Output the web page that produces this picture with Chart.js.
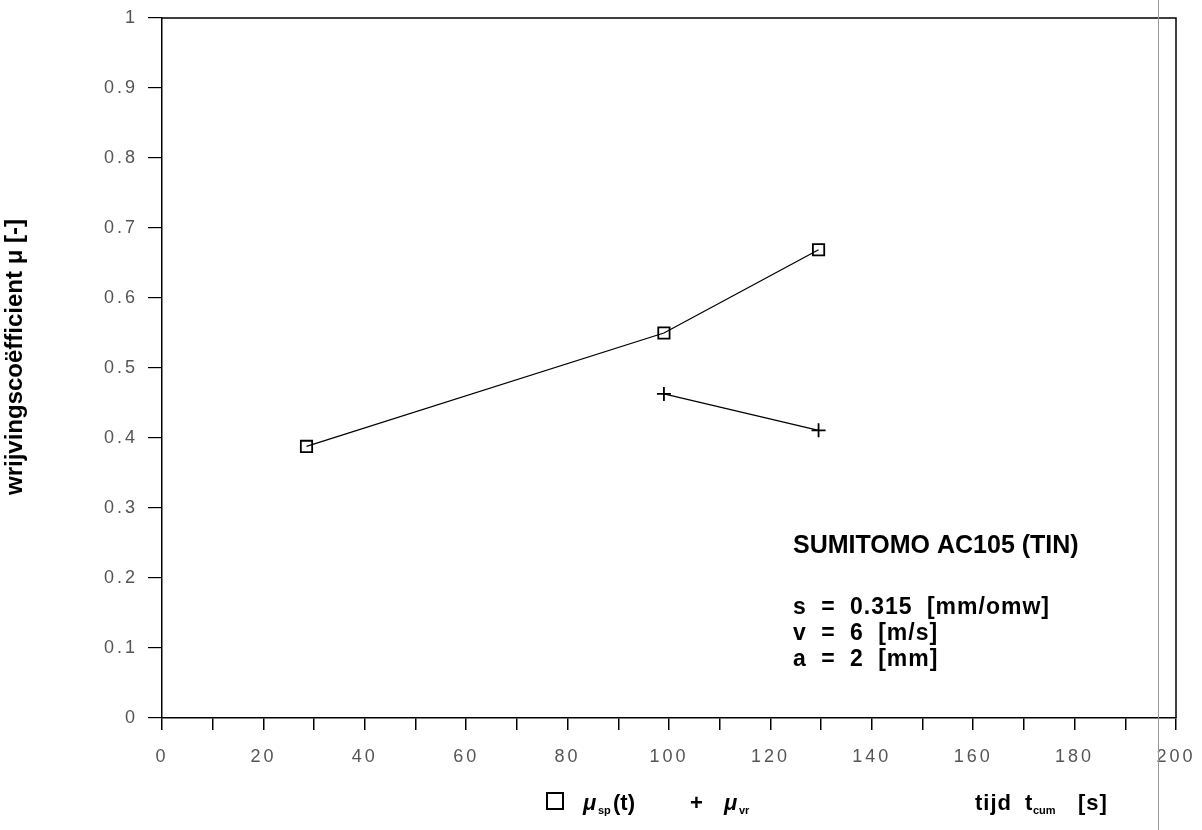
<!DOCTYPE html>
<html>
<head>
<meta charset="utf-8">
<script src="https://cdn.jsdelivr.net/npm/chart.js@4/dist/chart.umd.min.js"></script>
<style>
  html, body { margin: 0; padding: 0; background: #fff; }
  #wrap { width: 1202px; height: 830px; position: relative; }
</style>
</head>
<body>
<div id="wrap"><canvas id="frictionChart" width="1202" height="830"></canvas></div>
<script>
// measured values (tijd in s, wrijvingscoefficient)
const spTimes = [28.5, 99, 129.5];
const spValues = [0.388, 0.550, 0.669];
const vrTimes = [99, 129.5];
const vrValues = [0.463, 0.411];

const xTicksMin = 0, xTicksMax = 200;
const yTicksMin = 0, yTicksMax = 1;

const infoLines = ['s = 0.315 [mm/omw]', 'v = 6 [m/s]', 'a = 2 [mm]'];
const infoTitle = 'SUMITOMO AC105 (TIN)';

const FONT = '"Liberation Sans", Arial, sans-serif';

function toPoints(xs, ys) {
    return xs.map((x, i) => ({ x: x, y: ys[i] }));
}

// tick labels of the scan are spaced out
const spacing = {
    id: 'spacing',
    beforeDraw(chart) { chart.ctx.letterSpacing = '3px'; },
    afterDatasetsDraw(chart) { chart.ctx.letterSpacing = '0px'; }
};

// frame, texts, legend with subscripts
const extras = {
    id: 'extras',
    afterDraw(chart) {
        const c = chart.ctx;
        const a = chart.chartArea;
        c.save();
        c.strokeStyle = '#000';
        c.lineWidth = 1.5;
        c.beginPath();
        c.moveTo(a.left, a.top);
        c.lineTo(a.right, a.top);
        c.lineTo(a.right, a.bottom);
        c.stroke();
        // faint scanner line
        c.strokeStyle = '#999';
        c.lineWidth = 1;
        c.beginPath();
        c.moveTo(a.right - 17.5, 0);
        c.lineTo(a.right - 17.5, chart.height);
        c.stroke();

        // y title
        c.fillStyle = '#000';
        c.font = 'bold 24px ' + FONT;
        c.translate(15, 357);
        c.rotate(-Math.PI / 2);
        c.textAlign = 'center';
        c.textBaseline = 'middle';
        c.fillText('wrijvingscoëfficient \u03BC [-]', 0, 0);
        c.restore();

        // info text
        c.save();
        c.fillStyle = '#000';
        c.textBaseline = 'alphabetic';
        c.font = 'bold 25px ' + FONT;
        c.fillText(infoTitle, 793, 553);
        c.font = 'bold 23px ' + FONT;
        c.letterSpacing = '1px';
        c.wordSpacing = '7px';
        infoLines.forEach((t, i) => c.fillText(t, 793, 614 + i * 26));
        c.wordSpacing = '0px';
        c.letterSpacing = '0px';

        // legend
        const ly = 810;
        c.lineWidth = 2;
        c.strokeRect(547, ly - 17, 16, 16);
        c.font = 'italic bold 22px ' + FONT;
        c.fillText('\u03BC', 583, ly);
        c.font = 'bold 11px ' + FONT;
        c.fillText('sp', 598, ly + 4);
        c.font = 'bold 22px ' + FONT;
        c.fillText('(t)', 613, ly);
        c.fillText('+', 690, ly);
        c.font = 'italic bold 22px ' + FONT;
        c.fillText('\u03BC', 724, ly);
        c.font = 'bold 11px ' + FONT;
        c.fillText('vr', 739, ly + 4);

        c.font = 'bold 22px ' + FONT;
        c.letterSpacing = '1px';
        c.fillText('tijd', 975, ly);
        c.fillText('t', 1025, ly);
        c.font = 'bold 11px ' + FONT;
        c.letterSpacing = '0px';
        c.fillText('cum', 1033, ly + 4);
        c.font = 'bold 22px ' + FONT;
        c.letterSpacing = '1px';
        c.fillText('[s]', 1078, ly);
        c.restore();
    }
};

new Chart(document.getElementById('frictionChart').getContext('2d'), {
    type: 'scatter',
    data: {
        datasets: [{
            label: 'μsp(t)',
            data: toPoints(spTimes, spValues),
            showLine: true,
            borderColor: '#000',
            borderWidth: 1.3,
            pointStyle: 'rect',
            pointRadius: 8,
            pointBorderWidth: 1.8,
            pointBorderColor: '#000',
            pointBackgroundColor: 'rgba(255,255,255,0)'
        }, {
            label: 'μvr',
            data: toPoints(vrTimes, vrValues),
            showLine: true,
            borderColor: '#000',
            borderWidth: 1.3,
            pointStyle: 'cross',
            pointRadius: 7,
            pointBorderWidth: 1.8,
            pointBorderColor: '#000'
        }]
    },
    options: {
        responsive: false,
        animation: false,
        layout: { padding: { left: 0, right: 26, top: 18, bottom: 0 } },
        plugins: { legend: { display: false }, tooltip: { enabled: false } },
        scales: {
            x: {
                type: 'linear',
                min: xTicksMin, max: xTicksMax,
                afterFit: s => { s.height = 112; s.paddingLeft = 0; s.paddingRight = 0; },
                border: { color: '#000', width: 1.5 },
                grid: { drawOnChartArea: false, drawTicks: true, tickLength: 12, color: '#000', lineWidth: 1.5 },
                ticks: {
                    stepSize: 10,
                    autoSkip: false,
                    maxRotation: 0,
                    padding: 16,
                    color: '#555',
                    font: { family: FONT, size: 18 },
                    callback: v => (v % 20 === 0 ? String(v) : '')
                }
            },
            y: {
                min: yTicksMin, max: yTicksMax,
                afterFit: s => { s.width = 162; s.paddingTop = 0; s.paddingBottom = 0; },
                border: { color: '#000', width: 1.5 },
                grid: { drawOnChartArea: false, drawTicks: true, tickLength: 14, color: '#000', lineWidth: 1.2 },
                ticks: {
                    stepSize: 0.1,
                    padding: 10,
                    color: '#555',
                    font: { family: FONT, size: 18 },
                    callback: v => String(Math.round(v * 10) / 10)
                }
            }
        }
    },
    plugins: [spacing, extras]
});
</script>
</body>
</html>
